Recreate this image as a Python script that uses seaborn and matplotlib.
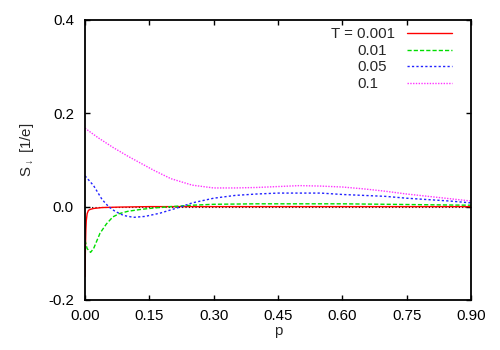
import matplotlib
matplotlib.use("Agg")
import matplotlib.pyplot as plt
from matplotlib.offsetbox import HPacker, DrawingArea
import seaborn as sns
import pandas as pd

# ---- data ----
p_t0001 = [0.0, 0.001, 0.002, 0.003, 0.005, 0.008, 0.012, 0.02, 0.04, 0.08, 0.15, 0.3, 0.5, 0.7, 0.9]
s_t0001 = [-0.150, -0.090, -0.050, -0.030, -0.015, -0.008, -0.006, -0.004, -0.002, -0.001, 0.0, 0.0, 0.0, 0.0, 0.0]

p_t001 = [0.0, 0.005, 0.013, 0.02, 0.035, 0.05, 0.065, 0.08, 0.1, 0.13, 0.16, 0.2, 0.25, 0.3, 0.4, 0.5, 0.6, 0.7, 0.8, 0.9]
s_t001 = [-0.072, -0.090, -0.098, -0.090, -0.057, -0.037, -0.022, -0.015, -0.010, -0.006, -0.003, 0.000, 0.003, 0.005, 0.006, 0.006, 0.006, 0.005, 0.004, 0.003]

p_t005 = [0.0, 0.02, 0.04, 0.055, 0.07, 0.09, 0.113, 0.14, 0.175, 0.2, 0.225, 0.25, 0.3, 0.35, 0.4, 0.45, 0.5, 0.55, 0.6, 0.65, 0.7, 0.75, 0.8, 0.85, 0.9]
s_t005 = [0.066, 0.045, 0.015, 0.000, -0.010, -0.019, -0.023, -0.021, -0.014, -0.007, 0.000, 0.008, 0.018, 0.024, 0.027, 0.029, 0.029, 0.029, 0.026, 0.024, 0.022, 0.018, 0.015, 0.012, 0.008]

p_t01 = [0.0, 0.03, 0.065, 0.1, 0.13, 0.16, 0.2, 0.25, 0.3, 0.35, 0.4, 0.45, 0.5, 0.55, 0.6, 0.65, 0.7, 0.75, 0.8, 0.85, 0.9]
s_t01 = [0.168, 0.148, 0.127, 0.108, 0.093, 0.078, 0.060, 0.046, 0.040, 0.040, 0.041, 0.043, 0.045, 0.044, 0.042, 0.038, 0.033, 0.027, 0.022, 0.017, 0.012]

labels = ["T = 0.001", "0.01", "0.05", "0.1"]
colors = ["#ff0000", "#00dd00", "#2222ff", "#ff33ff"]
dashes = ["", (3, 1.5), (1.6, 1.6), (1, 1)]

xticks = [0.0, 0.15, 0.30, 0.45, 0.60, 0.75, 0.90]
xticklabels = ["0.00", "0.15", "0.30", "0.45", "0.60", "0.75", "0.90"]
yticks = [-0.2, 0.0, 0.2, 0.4]
yticklabels = ["-0.2", "0.0", "0.2", "0.4"]

FS = 10.8

# ---- plot ----
sns.set_theme(style="ticks")
plt.rcParams["font.family"] = ["Liberation Sans", "DejaVu Sans"]
plt.rcParams["mathtext.fontset"] = "dejavusans"

fig = plt.figure(figsize=(5, 3.5), dpi=100)
ax = fig.add_axes([0.17, 0.143, 0.772, 0.8])

ax.axhline(0, color="black", lw=0.8, ls=(0, (1, 2)), zorder=1)

series = [(p_t0001, s_t0001), (p_t001, s_t001), (p_t005, s_t005), (p_t01, s_t01)]
for (px, sy), lab, c, d in zip(series, labels, colors, dashes):
    df = pd.DataFrame({"p": px, "S": sy})
    sns.lineplot(data=df, x="p", y="S", ax=ax, color=c, lw=1.0, label=lab,
                 sort=False, estimator=None, dashes=False)
    line = ax.get_lines()[-1]
    if d:
        line.set_dashes(d)

ax.set_xlim(0, 0.9)
ax.set_ylim(-0.2, 0.4)
ax.set_xticks(xticks)
ax.set_xticklabels(xticklabels)
ax.set_yticks(yticks)
ax.set_yticklabels(yticklabels)
ax.tick_params(direction="in", length=3.6, width=1.0, top=True, right=True,
               labelsize=FS, colors="black")
ax.tick_params(axis="x", pad=6.5)
ax.tick_params(axis="y", pad=8)
for sp in ax.spines.values():
    sp.set_visible(True)
    sp.set_linewidth(1.3)
    sp.set_color("black")

ax.set_xlabel("p", fontsize=FS, labelpad=1)
ax.set_ylabel(r"$\mathregular{S_{\downarrow}}$ [1/e]", fontsize=FS)
ax.yaxis.set_label_coords(-0.127, 0.536)

handles = ax.get_lines()[1:]
leg = ax.legend(handles, labels, loc="upper right", bbox_to_anchor=(0.966, 0.995),
                frameon=False, markerfirst=False, fontsize=FS, handlelength=3.0,
                handletextpad=0.8, labelspacing=0.17, borderaxespad=0.0, borderpad=0.4)

# left-align the numbers (the "T = " prefix hangs out to the left, as in the reference)
digit_pt = FS * 0.556
missing_digits = [0, 1, 1, 2]
column = leg._legend_handle_box.get_children()[0]
for item, n in zip(column.get_children(), missing_digits):
    if n:
        ch = item.get_children()
        ch[0] = HPacker(children=[ch[0], DrawingArea(n * digit_pt, 0.01)],
                        pad=0, sep=0, align="baseline")

fig.savefig("out.png", dpi=100)
